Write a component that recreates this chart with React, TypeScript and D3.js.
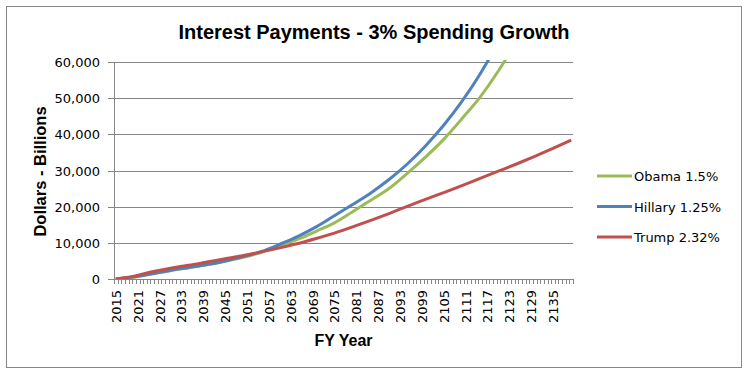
import React from "react";
import * as d3 from "d3";

const firstYear = 2015;
const lastYear = 2140;
const sampleYears = [2015, 2020, 2025, 2030, 2035, 2040, 2045, 2050, 2055, 2060, 2065, 2070, 2075, 2080, 2085, 2090, 2095, 2100, 2105, 2110, 2115, 2120, 2125, 2130, 2135, 2140];
const obama = [0, 500, 1400, 2300, 3100, 3900, 4900, 6000, 7400, 9200, 11000, 13200, 15500, 18600, 21800, 25000, 29200, 33700, 38600, 44300, 50300, 57500, 65800, 75500, 86500, 99000];
const hillary = [0, 600, 1500, 2400, 3200, 4000, 5000, 6200, 7600, 9600, 11800, 14400, 17500, 20600, 23800, 27500, 31800, 36800, 42500, 49100, 56700, 65500, 75700, 87500, 101000, 117000];
const trump = [0, 800, 2000, 3000, 3800, 4700, 5600, 6500, 7500, 8600, 9800, 11200, 12700, 14400, 16200, 18100, 20100, 22000, 23900, 25800, 27800, 29800, 31800, 33900, 36100, 38400];
const yTicks = [0, 10000, 20000, 30000, 40000, 50000, 60000];
const seriesNames = ["Obama 1.5%", "Hillary 1.25%", "Trump 2.32%"];
const seriesColors = ["#9BBB59", "#4F81BD", "#C0504D"];
const seriesValues = [obama, hillary, trump];

export default function App() {
  const W = 749, H = 373;
  const left = 114, right = 573, top = 62, bottom = 279;
  const years = d3.range(firstYear, lastYear + 1);
  const x = d3.scaleBand<number>().domain(years).range([left, right]).padding(0);
  const y = d3.scaleLinear().domain([0, 60000]).range([bottom, top]);
  const cx = (yr: number) => (x(yr) as number) + x.bandwidth() / 2;
  const fmt = d3.format(",");
  const line = d3.line<[number, number]>().x(d => cx(d[0])).y(d => y(d[1])).curve(d3.curveMonotoneX);
  const font = "'DejaVu Sans', sans-serif";
  const boldFont = "'Liberation Sans', Arial, sans-serif";
  const labelYears = years.filter(yr => (yr - firstYear) % 6 === 0);
  const boundaries = d3.range(years.length + 1).map(i => left + i * x.bandwidth());
  return (
    <svg width={W} height={H} style={{ position: "absolute", left: 0, top: 0, background: "#fff" }}>
      <rect x={0} y={0} width={W} height={H} fill="#fff" />
      <rect x={6.5} y={6.5} width={735} height={361} fill="#fff" stroke="#868686" strokeWidth={1} />
      <text x={374} y={39} textAnchor="middle" fontFamily={boldFont} fontWeight="bold" fontSize={20} textLength={391} lengthAdjust="spacingAndGlyphs" fill="#000">
        Interest Payments - 3% Spending Growth
      </text>
      <defs>
        <clipPath id="plotClip">
          <rect x={left} y={top - 2} width={right - left + 2} height={bottom - top + 2} />
        </clipPath>
      </defs>
      {yTicks.map(t => (
        <g key={t}>
          {t > 0 && <line x1={left} x2={right} y1={Math.round(y(t)) + 0.5} y2={Math.round(y(t)) + 0.5} stroke="#868686" strokeWidth={1} />}
          <line x1={left - 6} x2={left} y1={Math.round(y(t)) + 0.5} y2={Math.round(y(t)) + 0.5} stroke="#868686" strokeWidth={1} />
          <text x={100} y={y(t) + 5} textAnchor="end" fontFamily={font} fontSize={13} fill="#000">{fmt(t)}</text>
        </g>
      ))}
      <line x1={left + 0.5} x2={left + 0.5} y1={top} y2={bottom} stroke="#868686" strokeWidth={1} />
      {boundaries.map((bx, i) => (
        <line key={i} x1={Math.round(bx) + 0.5} x2={Math.round(bx) + 0.5} y1={bottom} y2={bottom + 5} stroke="#868686" strokeWidth={1} />
      ))}
      <g clipPath="url(#plotClip)">
        {seriesValues.map((vals, si) => (
          <path key={si} d={line(sampleYears.map((yr, i) => [yr, vals[i]] as [number, number])) || ""} fill="none" stroke={seriesColors[si]} strokeWidth={3} strokeLinejoin="round" />
        ))}
      </g>
      <line x1={left} x2={right} y1={bottom + 0.5} y2={bottom + 0.5} stroke="#868686" strokeWidth={1} />
      {labelYears.map(yr => (
        <text key={yr} transform={`translate(${cx(yr) + 5},${290}) rotate(-90)`} textAnchor="end" fontFamily={font} fontSize={13} fill="#000">{yr}</text>
      ))}
      <text x={(left + right) / 2} y={346} textAnchor="middle" fontFamily={boldFont} fontWeight="bold" fontSize={16} fill="#000">FY Year</text>
      <text transform={`translate(46,${(top + bottom) / 2 + 1}) rotate(-90)`} textAnchor="middle" fontFamily={boldFont} fontWeight="bold" fontSize={16.5} fill="#000">Dollars - Billions</text>
      {seriesNames.map((name, i) => (
        <g key={name}>
          <line x1={597} x2={632} y1={176 + i * 30.5} y2={176 + i * 30.5} stroke={seriesColors[i]} strokeWidth={3} />
          <text x={634} y={176 + i * 30.5 + 5} fontFamily={font} fontSize={13} fill="#000">{name}</text>
        </g>
      ))}
    </svg>
  );
}
